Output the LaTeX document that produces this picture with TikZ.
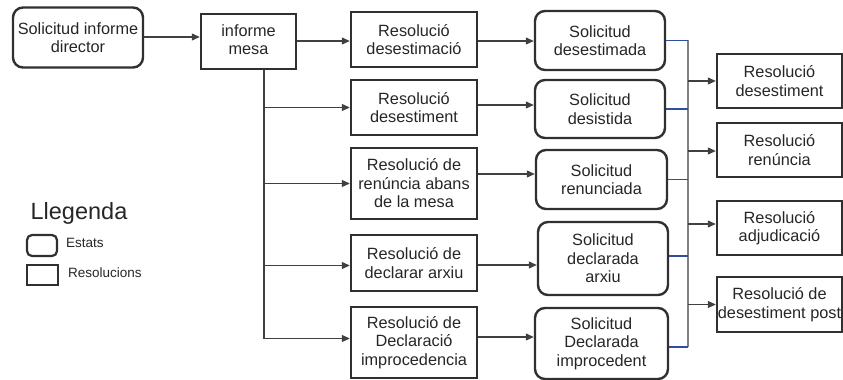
\documentclass[tikz,border=0pt]{standalone}
\usepackage{fontspec}
\setmainfont{Liberation Sans}
\usetikzlibrary{arrows.meta,calc}
\definecolor{boxc}{HTML}{303030}
\definecolor{linec}{HTML}{404040}
\definecolor{busblue}{HTML}{2F4E9C}
\definecolor{busgray}{HTML}{808080}
\tikzset{
  base/.style={draw=boxc, line width=2.4pt, inner sep=0pt, align=center,
    font=\fontsize{16.3pt}{18.5pt}\selectfont, text=black!85},
  statebox/.style={base, rounded corners=10pt},
  resbox/.style={base},
  arr/.style={draw=linec, line width=1.1pt, -{Triangle[length=8pt,width=7pt]}},
  plain/.style={draw=linec, line width=1.1pt},
  blueline/.style={draw=busblue, line width=1.1pt},
  grayline/.style={draw=busgray, line width=1.1pt}
}
\begin{document}
\begin{tikzpicture}[x=1pt,y=-1pt]
\useasboundingbox (0,0) rectangle (843,380);
% first row
\node[statebox, minimum width=130pt, minimum height=60pt] (sid) at (78,37.5) {Solicitud informe\\director};
\node[resbox, minimum width=95pt, minimum height=55pt, anchor=north] (im) at (248.5,13) {\raisebox{4pt}{\begin{tabular}{@{}c@{}}informe\\mesa\end{tabular}}};
% resolutions
\node[resbox, minimum width=126pt, minimum height=55pt] (rd) at (414,39.5) {Resolució\\desestimació};
\node[resbox, minimum width=126pt, minimum height=55pt] (rdt) at (414,107.5) {Resolució\\desestiment};
\node[resbox, minimum width=126pt, minimum height=71pt] (rr) at (414,183.5) {Resolució de\\renúncia abans\\de la mesa};
\node[resbox, minimum width=126pt, minimum height=56pt] (ra) at (414,263) {Resolució de\\declarar arxiu};
\node[resbox, minimum width=126pt, minimum height=71pt] (ri) at (414,342.5) {Resolució de\\Declaració\\improcedencia};
% states
\node[statebox, minimum width=130pt, minimum height=59pt] (sd) at (600,40.5) {Solicitud\\desestimada};
\node[statebox, minimum width=130pt, minimum height=58pt] (sdi) at (600,109) {Solicitud\\desistida};
\node[statebox, minimum width=131pt, minimum height=59pt] (sr) at (601.5,179.5) {Solicitud\\renunciada};
\node[statebox, minimum width=130pt, minimum height=73pt] (sa) at (603,258.5) {Solicitud\\declarada\\arxiu};
\node[statebox, minimum width=133pt, minimum height=71pt] (si) at (601.5,343.5) {Solicitud\\Declarada\\improcedent};
% final resolutions
\node[resbox, minimum width=125pt, minimum height=54pt] (rdes) at (779.5,81) {Resolució\\desestiment};
\node[resbox, minimum width=125pt, minimum height=54pt] (rren) at (779.5,150) {Resolució\\renúncia};
\node[resbox, minimum width=125pt, minimum height=54pt] (radj) at (779.5,228) {Resolució\\adjudicació};
\node[resbox, minimum width=125pt, minimum height=55pt] (rpost) at (779.5,304.5) {Resolució de\\desestiment post};
% legend
\node[font=\fontsize{23.5pt}{26pt}\selectfont, text=black!85] (leg) at (79,213) {Llegenda};
\node[base, rounded corners=5pt, minimum width=30pt, minimum height=21pt, line width=2.2pt] (lst) at (42,245.5) {};
\node[anchor=west, inner sep=0pt, font=\fontsize{13.5pt}{16pt}\selectfont, text=black!85] (lstt) at (66,242.5) {Estats};
\node[base, minimum width=31pt, minimum height=20pt, line width=2.2pt] (lre) at (42.5,275) {};
\node[anchor=west, inner sep=0pt, font=\fontsize{13.5pt}{16pt}\selectfont, text=black!85] (lret) at (68,272.5) {Resolucions};
% connectors
\draw[arr] (sid.east |- 0,37) -- (im.west |- 0,37);
\draw[arr] (im.east |- 0,41) -- (rd.west |- 0,41);
\coordinate (t0) at ($(im.south)+(15.5,0)$);
\draw[arr] (t0) |- (rdt.west);
\draw[arr] (t0) |- (rr.west);
\draw[arr] (t0) |- ($(ra.west)+(0,2.5)$);
\draw[arr] (t0) |- ($(ri.west)+(0,-4)$);
\draw[arr] (rd.east |- 0,41) -- (sd.west |- 0,41);
\draw[arr] (rdt.east |- 0,105) -- (sdi.west |- 0,105);
\draw[arr] (rr.east |- 0,174) -- (sr.west |- 0,174);
\draw[arr] (ra.east |- 0,265) -- (sa.west |- 0,265);
\draw[arr] (ri.east |- 0,337) -- (si.west |- 0,337);
% bus on the right
\coordinate (bus) at (688,0);
\draw[grayline] (bus |- 0,40) -- (bus |- 0,347);
\draw[blueline] (sd.east) -- (sd.east -| bus);
\draw[blueline] (sdi.east) -- (sdi.east -| bus);
\draw[blueline] (sr.east) -- (sr.east -| bus);
\draw[blueline] ($(sa.east)+(0,-2.5)$) -- ($(sa.east -| bus)+(0,-2.5)$);
\draw[blueline] ($(si.east)+(0,3.5)$) -- ($(si.east -| bus)+(0,3.5)$);
\draw[arr] (rdes.west -| bus) -- (rdes.west);
\draw[arr] ($(rren.west -| bus)+(0,1)$) -- ($(rren.west)+(0,1)$);
\draw[arr] ($(radj.west -| bus)+(0,-4)$) -- ($(radj.west)+(0,-4)$);
\draw[arr] (rpost.west -| bus) -- (rpost.west);
\end{tikzpicture}
\end{document}
